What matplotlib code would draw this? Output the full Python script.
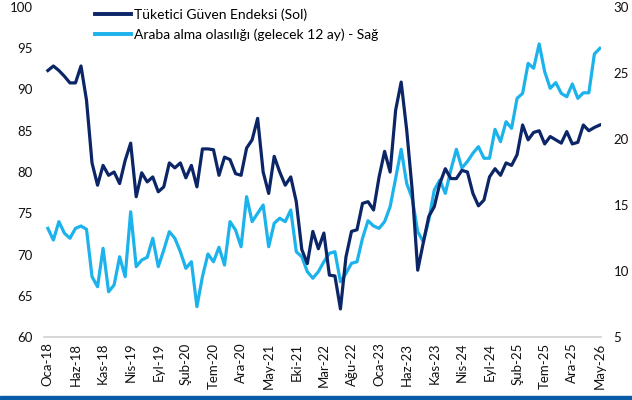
import matplotlib.pyplot as plt
from matplotlib.lines import Line2D

# =====================================
# Data (monthly, Oca-18 .. May-26)
# =====================================

months_tr = ["Oca", "Şub", "Mar", "Nis", "May", "Haz",
             "Tem", "Ağu", "Eyl", "Eki", "Kas", "Ara"]

guven = [92.3, 92.85, 92.3, 91.6, 90.8, 90.8, 92.85, 88.7, 81.1, 78.4,
         80.8, 79.6, 80.0, 78.6, 81.4, 83.5, 77.0, 79.9, 78.8, 79.4,
         77.6, 78.2, 81.1, 80.5, 81.1, 79.3, 80.8, 78.2, 82.8, 82.8,
         82.7, 79.6, 81.8, 81.5, 79.8, 79.6, 82.9, 83.9, 86.5, 80.0,
         77.4, 81.9, 80.0, 78.4, 79.4, 76.4, 70.6, 68.9, 72.8, 70.7,
         72.6, 67.5, 67.4, 63.4, 69.7, 72.8, 73.0, 76.2, 76.4, 75.4,
         79.4, 82.5, 80.0, 87.5, 90.9, 85.1, 77.8, 68.1, 71.4, 74.6,
         75.8, 78.6, 80.4, 79.2, 79.2, 80.2, 80.0, 77.4, 75.9, 76.6,
         79.4, 80.4, 79.6, 81.1, 80.8, 82.1, 85.7, 83.9, 84.8, 85.0,
         83.4, 84.3, 83.9, 83.5, 84.9, 83.4, 83.6, 85.7, 85.0, 85.4,
         85.7]

araba = [13.23, 12.35, 13.74, 12.86, 12.48, 13.23, 13.41, 13.16, 9.57, 8.81,
         11.72, 8.43, 8.94, 11.08, 9.57, 14.49, 10.33, 10.83, 11.04, 12.48,
         10.33, 11.59, 12.98, 12.48, 11.46, 10.2, 10.7, 7.3, 9.57, 11.29,
         10.7, 11.8, 10.45, 13.74, 13.1, 11.84, 15.63, 13.74, 14.37, 15.0,
         11.84, 13.61, 14.0, 13.74, 14.62, 11.46, 11.08, 9.95, 9.45, 9.95,
         10.7, 11.34, 11.46, 9.19, 9.82, 10.58, 10.7, 12.48, 13.81, 13.41,
         13.23, 13.74, 14.87, 17.02, 19.22, 16.64, 15.5, 12.98, 12.22, 13.86,
         16.14, 16.89, 15.88, 17.65, 19.22, 17.8, 18.3, 18.92, 19.42, 18.54,
         18.54, 20.73, 19.8, 21.31, 20.81, 23.08, 23.46, 25.73, 25.36, 27.2,
         25.1, 23.84, 24.27, 23.46, 23.2, 24.17, 23.08, 23.5, 23.5, 26.44,
         26.87]

labels = [f"{months_tr[i % 12]}-{18 + i // 12}" for i in range(len(guven))]
x = list(range(len(guven)))

dark = "#0b2566"
light = "#1cb3ec"

# =====================================
# Figure
# =====================================

plt.rcParams["font.family"] = ["Lato", "DejaVu Sans"]

fig = plt.figure(figsize=(6.32, 4.0), dpi=100)
ax = fig.add_axes([44 / 632, 1 - 337 / 400, 557 / 632, 330 / 400])
ax2 = ax.twinx()

ax2.plot(x, araba, color=light, lw=2.3, solid_joinstyle="round")
ax.plot(x, guven, color=dark, lw=2.3, solid_joinstyle="round")

ax.set_zorder(ax2.get_zorder() + 1)
ax.patch.set_visible(False)

ax.set_xlim(-0.7, 100.2)
ax.set_ylim(60, 100)
ax2.set_ylim(5, 30)

ax.set_yticks(range(60, 101, 5))
ax2.set_yticks(range(5, 31, 5))

ax.set_xticks(x[::5])
ax.set_xticklabels(labels[::5], rotation=90)

for a in (ax, ax2):
    for s in a.spines.values():
        s.set_visible(False)
    a.tick_params(length=0, labelsize=9.5, colors="#111111")

ax.spines["bottom"].set_visible(True)
ax.spines["bottom"].set_color("#d0d0d0")
ax.spines["bottom"].set_linewidth(1.2)

ax.tick_params(axis="y", pad=8)
ax2.tick_params(axis="y", pad=9)
ax.tick_params(axis="x", pad=4)

# =====================================
# Legend
# =====================================

handles = [
    Line2D([0], [0], color=dark, lw=2.8),
    Line2D([0], [0], color=light, lw=2.8),
]

ax.legend(
    handles,
    ["Tüketici Güven Endeksi (Sol)",
     "Araba alma olasılığı (gelecek 12 ay) - Sağ"],
    loc="upper left",
    bbox_to_anchor=(95 / 632, 1 - 8 / 400),
    bbox_transform=fig.transFigure,
    frameon=False,
    borderpad=0,
    borderaxespad=0,
    handlelength=2.6,
    handletextpad=0.2,
    labelspacing=0.55,
    fontsize=10,
)

# bottom blue strip
fig.patches.append(plt.Rectangle((0, 0), 1, 4 / 400, transform=fig.transFigure,
                                 color="#0a5ca8", zorder=0))

fig.savefig("out.png", dpi=100)
